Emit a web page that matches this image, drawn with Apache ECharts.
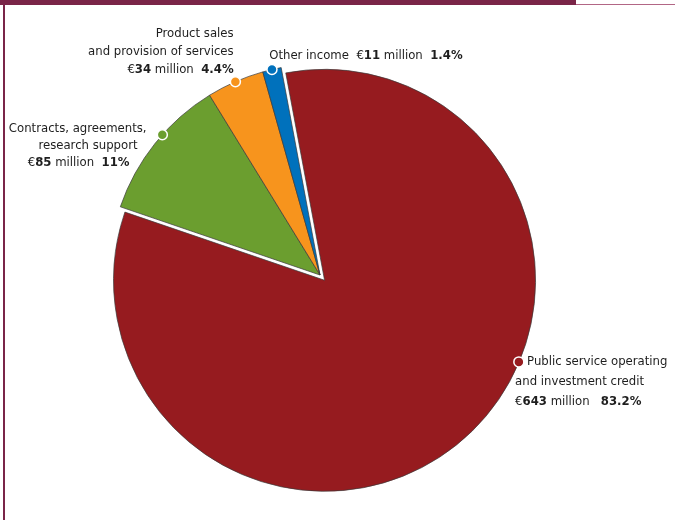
<!DOCTYPE html>
<html>
<head>
<meta charset="utf-8">
<script src="https://cdn.jsdelivr.net/npm/echarts@6/dist/echarts.min.js"></script>
<style>
  html, body { margin: 0; padding: 0; background: #fff; }
  #wrap { position: relative; width: 675px; height: 520px; overflow: hidden; }
  #topbar { position: absolute; left: 0; top: 0; width: 576px; height: 5px; background: #7a2548; }
  #topline { position: absolute; left: 576px; top: 4px; width: 99px; height: 1px; background: #b26685; }
  #leftline { position: absolute; left: 3px; top: 0; width: 2px; height: 520px; background: #7a2548; }
  #main { position: absolute; left: 0; top: 0; width: 675px; height: 520px; }
</style>
</head>
<body>
<div id="wrap">
  <div id="main"></div>
  <div id="topbar"></div>
  <div id="topline"></div>
  <div id="leftline"></div>
</div>
<script>
// income by type, million euro
var categories = [
  'Public service operating\nand investment credit',
  'Contracts, agreements,\nresearch support',
  'Product sales\nand provision of services',
  'Other income'
];
var values = [643, 85, 34, 11];
var colors = ['#961b1f', '#6b9e2f', '#f7941d', '#0071bc'];

var total = values.reduce(function (a, b) { return a + b; }, 0);
var startAngle = 100.6;        // pie start, degrees ccw from 3 o'clock
var pieR = 211;
var polarR = 240;              // polar frame for the label dots, 1px per unit

function pct(v) {
  var s = (v / total * 100).toFixed(1);
  return s.replace(/\.0$/, '') + '%';
}

// mid angle of each slice, clockwise from 12 o'clock (polar angle axis)
var midAngles = [];
var acc = 90 - startAngle;
values.forEach(function (v) {
  var span = v / total * 360;
  midAngles.push(((acc + span / 2) % 360 + 360) % 360);
  acc += span;
});

var font = "'Liberation Sans Narrow', 'DejaVu Sans Condensed', 'Arial Narrow', sans-serif";
var txt = '#1e1e1e';
var rich = {
  n: { fontFamily: font, fontSize: 13, color: txt },
  b: { fontFamily: font, fontSize: 13, color: txt, fontWeight: 'bold' },
  s9: { width: 9 }, s12: { width: 12 }, s17: { width: 17 }
};

function numLine(i, gap) {
  return '{n|€}{b|' + values[i] + '}{n| million' + gap + '}{b|' + pct(values[i]) + '}';
}
function nameLines(i) {
  return categories[i].split('\n');
}

// label layout for each marker
var labelCfg = [
  { // red: text to the right, first line indented past the dot
    r: 217, a: 113.6,
    position: [2, -5], align: 'left', verticalAlign: 'top', lineHeight: 20,
    text: function () {
      var l = nameLines(0);
      return '{s12| }{n|' + l[0] + '}\n{n|' + l[1] + '}\n' + numLine(0, '   ');
    }
  },
  { // green
    r: pieR, a: midAngles[1] + 3,
    position: [-10, -8.5], align: 'right', verticalAlign: 'top', lineHeight: 17,
    text: function () {
      var l = nameLines(1);
      return '{n|' + l[0] + '}\n{n|' + l[1] + '}{s9| }\n' + numLine(1, '  ') + '{s17| }';
    }
  },
  { // orange
    r: pieR, a: midAngles[2],
    position: [4, 3], align: 'right', verticalAlign: 'bottom', lineHeight: 18,
    text: function () {
      var l = nameLines(2);
      return '{n|' + l[0] + '}\n{n|' + l[1] + '}\n' + numLine(2, '  ');
    }
  },
  { // blue
    r: pieR, a: midAngles[3],
    position: [3, -8], align: 'left', verticalAlign: 'middle', lineHeight: 18,
    text: function () {
      return '{n|' + categories[3] + '  }' + numLine(3, '  ');
    }
  }
];

var pieData = values.map(function (v, i) {
  var st = { color: colors[i], borderColor: '#3a3a3a', borderWidth: 0.7 };
  return {
    name: categories[i],
    value: v,
    selected: i === 0,
    itemStyle: st,
    select: { itemStyle: st }
  };
});

var dotData = labelCfg.map(function (c, i) {
  return {
    value: [c.r, c.a],
    itemStyle: { color: colors[i], borderColor: '#fff', borderWidth: 1.5, opacity: 1 },
    label: {
      show: true,
      position: c.position,
      align: c.align,
      verticalAlign: c.verticalAlign,
      lineHeight: c.lineHeight,
      formatter: c.text,
      rich: (function () {
        var r = {};
        Object.keys(rich).forEach(function (k) {
          r[k] = Object.assign({ lineHeight: c.lineHeight }, rich[k]);
        });
        return r;
      })()
    }
  };
});

var chart = echarts.init(document.getElementById('main'), null, { renderer: 'canvas' });
chart.setOption({
  animation: false,
  polar: { center: [320, 275], radius: [0, polarR] },
  angleAxis: {
    type: 'value', min: 0, max: 360, startAngle: 90, clockwise: true,
    show: false, axisLine: { show: false }, splitLine: { show: false }
  },
  radiusAxis: {
    type: 'value', min: 0, max: polarR, show: false,
    axisLine: { show: false }, splitLine: { show: false }
  },
  series: [
    {
      type: 'pie',
      center: [320, 275],
      radius: [0, pieR],
      startAngle: startAngle,
      clockwise: true,
      avoidLabelOverlap: false,
      selectedMode: 'single',
      selectedOffset: 7,
      label: { show: false },
      labelLine: { show: false },
      emphasis: { disabled: true },
      silent: true,
      z: 2,
      data: pieData
    },
    {
      type: 'scatter',
      coordinateSystem: 'polar',
      symbol: 'circle',
      symbolSize: 10,
      silent: true,
      z: 5,
      itemStyle: { opacity: 1 },
      emphasis: { disabled: true },
      data: dotData
    }
  ]
});
</script>
</body>
</html>
